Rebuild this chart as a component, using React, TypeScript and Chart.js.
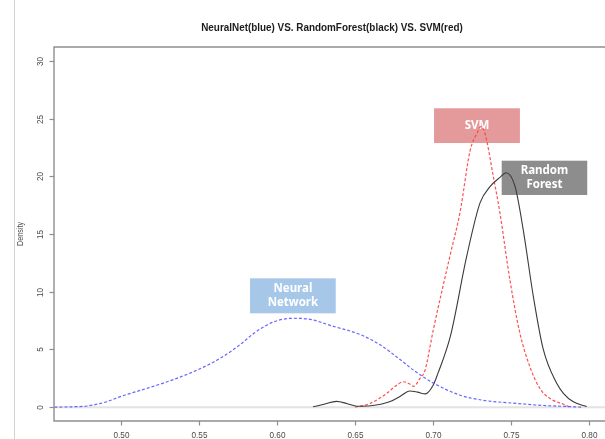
import React, { useEffect, useRef } from "react";
import { Chart, registerables } from "chart.js";

Chart.register(...registerables);

const chartTitle = "NeuralNet(blue) VS. RandomForest(black) VS. SVM(red)";
const yAxisTitle = "Density";
const xTickValues = [0.5, 0.55, 0.6, 0.65, 0.7, 0.75, 0.8];
const xTickLabels = ["0.50", "0.55", "0.60", "0.65", "0.70", "0.75", "0.80"];
const yTickValues = [0, 5, 10, 15, 20, 25, 30];
const yTickLabels = ["0", "5", "10", "15", "20", "25", "30"];

// Neural Network density (blue, dashed)
const nnX = [0.457, 0.468, 0.478, 0.49, 0.5, 0.512, 0.525, 0.5375, 0.55, 0.563, 0.576, 0.585, 0.597, 0.61, 0.619, 0.636, 0.653, 0.666, 0.679, 0.6875, 0.7, 0.717, 0.732, 0.754, 0.77, 0.785, 0.795];
const nnY = [0.0, 0.03, 0.1, 0.45, 0.95, 1.45, 2.0, 2.6, 3.3, 4.2, 5.4, 6.4, 7.35, 7.7, 7.65, 7.0, 6.3, 5.4, 4.1, 3.2, 2.1, 1.05, 0.6, 0.32, 0.15, 0.06, 0.0];

// Random Forest density (black, solid)
const rfX = [0.623, 0.63, 0.638, 0.645, 0.651, 0.66, 0.672, 0.679, 0.685, 0.69, 0.695, 0.7, 0.703, 0.711, 0.7216, 0.7301, 0.7365, 0.7429, 0.7468, 0.7526, 0.7579, 0.7643, 0.7707, 0.7793, 0.7836, 0.79, 0.7986];
const rfY = [0.03, 0.25, 0.5, 0.3, 0.08, 0.12, 0.46, 0.95, 1.4, 1.3, 1.15, 1.9, 2.9, 6.1, 13.1, 17.7, 19.1, 19.9, 20.3, 19.1, 15.3, 9.6, 5.0, 2.06, 1.2, 0.46, 0.05];

// SVM density (red, dashed)
const svmX = [0.65, 0.6595, 0.6702, 0.6766, 0.681, 0.685, 0.6875, 0.6916, 0.6948, 0.7001, 0.7108, 0.7173, 0.7237, 0.7284, 0.7305, 0.7333, 0.7386, 0.7429, 0.7493, 0.7557, 0.7621, 0.7686, 0.775, 0.7836, 0.7879];
const svmY = [0.0, 0.32, 1.19, 1.9, 2.2, 2.0, 1.8, 2.5, 3.2, 6.7, 13.1, 16.9, 22.2, 23.8, 24.3, 23.7, 20.0, 16.8, 11.0, 6.4, 3.5, 1.6, 0.75, 0.25, 0.0];

// Callout labels (data-space boxes)
const calloutLines = [["Neural", "Network"], ["SVM"], ["Random", "Forest"]];
const calloutX0 = [0.5825, 0.7006, 0.744];
const calloutX1 = [0.6375, 0.7557, 0.7989];
const calloutY0 = [8.13, 22.88, 18.38];
const calloutY1 = [11.16, 25.89, 21.35];
const calloutColors = ["#a6c7e8", "#e4999b", "#8d8d8d"];

const AXIS_FONT = '"Liberation Sans", Arial, sans-serif';

function condensedText(ctx: CanvasRenderingContext2D, text: string, x: number, y: number, factor: number) {
  const w = ctx.measureText(text).width;
  ctx.fillText(text, x, y, w * factor);
}

const decorPlugin = {
  id: "decor",
  beforeDatasetsDraw(chart: any) {
    const { ctx, chartArea, scales } = chart;
    const xs = scales.x;
    const ys = scales.y;
    ctx.save();
    // zero line
    const y0 = ys.getPixelForValue(0);
    ctx.strokeStyle = "#e3e3e3";
    ctx.lineWidth = 2;
    ctx.beginPath();
    ctx.moveTo(chartArea.left, y0);
    ctx.lineTo(chartArea.right, y0);
    ctx.stroke();
    // callouts
    for (let i = 0; i < calloutLines.length; i++) {
      const l = xs.getPixelForValue(calloutX0[i]);
      const r = xs.getPixelForValue(calloutX1[i]);
      const t = ys.getPixelForValue(calloutY1[i]);
      const b = ys.getPixelForValue(calloutY0[i]);
      ctx.fillStyle = calloutColors[i];
      ctx.fillRect(l, t, r - l, b - t);
      ctx.fillStyle = "#ffffff";
      ctx.font = 'bold 11.5px "Noto Sans", "Open Sans", sans-serif';
      ctx.textAlign = "center";
      ctx.textBaseline = "middle";
      const lines = calloutLines[i];
      const lh = 14.5;
      const cy = (t + b) / 2;
      const cx = (l + r) / 2;
      lines.forEach((ln, k) => {
        ctx.fillText(ln, cx, cy + (k - (lines.length - 1) / 2) * lh);
      });
    }
    ctx.restore();
  },
  afterDatasetsDraw(chart: any) {
    const { ctx, chartArea, scales, height } = chart;
    const xs = scales.x;
    const ys = scales.y;
    ctx.save();
    // left separator line
    ctx.strokeStyle = "#d2d2d2";
    ctx.lineWidth = 1;
    ctx.beginPath();
    ctx.moveTo(14.5, 0);
    ctx.lineTo(14.5, height);
    ctx.stroke();
    // plot box
    ctx.strokeStyle = "#8e8e8e";
    ctx.lineWidth = 1.4;
    ctx.beginPath();
    ctx.moveTo(chartArea.right + 5, chartArea.top);
    ctx.lineTo(chartArea.left, chartArea.top);
    ctx.lineTo(chartArea.left, chartArea.bottom);
    ctx.lineTo(chartArea.right + 5, chartArea.bottom);
    ctx.stroke();
    // x ticks
    ctx.lineWidth = 1.2;
    ctx.fillStyle = "#4a4a4a";
    ctx.font = "9.5px " + AXIS_FONT;
    ctx.textAlign = "center";
    ctx.textBaseline = "middle";
    xTickValues.forEach((v, i) => {
      const px = Math.round(xs.getPixelForValue(v)) + 0.5;
      ctx.beginPath();
      ctx.moveTo(px, chartArea.bottom);
      ctx.lineTo(px, chartArea.bottom + 4.5);
      ctx.stroke();
      condensedText(ctx, xTickLabels[i], px, chartArea.bottom + 14, 0.86);
    });
    // y ticks
    yTickValues.forEach((v, i) => {
      const py = Math.round(ys.getPixelForValue(v)) + 0.5;
      ctx.beginPath();
      ctx.moveTo(chartArea.left, py);
      ctx.lineTo(chartArea.left - 4.5, py);
      ctx.stroke();
      ctx.save();
      ctx.translate(chartArea.left - 14, py);
      ctx.rotate(-Math.PI / 2);
      condensedText(ctx, yTickLabels[i], 0, 0, 0.86);
      ctx.restore();
    });
    // y axis title
    ctx.save();
    ctx.font = "9px " + AXIS_FONT;
    ctx.translate(21, (chartArea.top + chartArea.bottom) / 2);
    ctx.rotate(-Math.PI / 2);
    condensedText(ctx, yAxisTitle, 0, 0, 0.8);
    ctx.restore();
    // title
    ctx.fillStyle = "#1c1c1c";
    ctx.font = "bold 11.5px " + AXIS_FONT;
    condensedText(ctx, chartTitle, 332, 28, 0.86);
    ctx.restore();
  },
};

export default function App() {
  const canvasRef = useRef<HTMLCanvasElement | null>(null);

  useEffect(() => {
    const canvas = canvasRef.current;
    if (!canvas) return;
    const toPts = (xs: number[], ys: number[]) => xs.map((x, i) => ({ x, y: ys[i] }));
    const chart = new Chart(canvas, {
      type: "line",
      data: {
        datasets: [
          {
            label: "NeuralNet",
            data: toPts(nnX, nnY),
            borderColor: "rgba(85,85,255,0.9)",
            borderWidth: 1.2,
            borderDash: [3, 2],
            cubicInterpolationMode: "monotone",
            pointRadius: 0,
            fill: false,
          },
          {
            label: "RandomForest",
            data: toPts(rfX, rfY),
            borderColor: "#3a3a3a",
            borderWidth: 1.1,
            cubicInterpolationMode: "monotone",
            pointRadius: 0,
            fill: false,
          },
          {
            label: "SVM",
            data: toPts(svmX, svmY),
            borderColor: "rgba(255,60,60,0.9)",
            borderWidth: 1.2,
            borderDash: [3, 2],
            cubicInterpolationMode: "monotone",
            pointRadius: 0,
            fill: false,
          },
        ],
      },
      options: {
        responsive: false,
        animation: false,
        layout: { padding: { top: 47, right: 0, left: 0, bottom: 0 } },
        plugins: {
          legend: { display: false },
          tooltip: { enabled: false },
          title: { display: false },
        },
        scales: {
          x: {
            type: "linear",
            min: 0.4567,
            max: 0.8103,
            grid: { display: false },
            border: { display: false },
            ticks: { display: false },
            afterFit: (s: any) => {
              s.height = 18;
            },
          },
          y: {
            type: "linear",
            min: -1.2,
            max: 31.2,
            grid: { display: false },
            border: { display: false },
            ticks: { display: false },
            afterFit: (s: any) => {
              s.width = 54;
            },
          },
        },
      },
      plugins: [decorPlugin],
    });
    return () => chart.destroy();
  }, []);

  return (
    <div style={{ position: "fixed", left: 0, top: 0, width: 605, height: 439, background: "#fff" }}>
      <canvas ref={canvasRef} width={605} height={439} style={{ display: "block", width: 605, height: 439 }} />
    </div>
  );
}
